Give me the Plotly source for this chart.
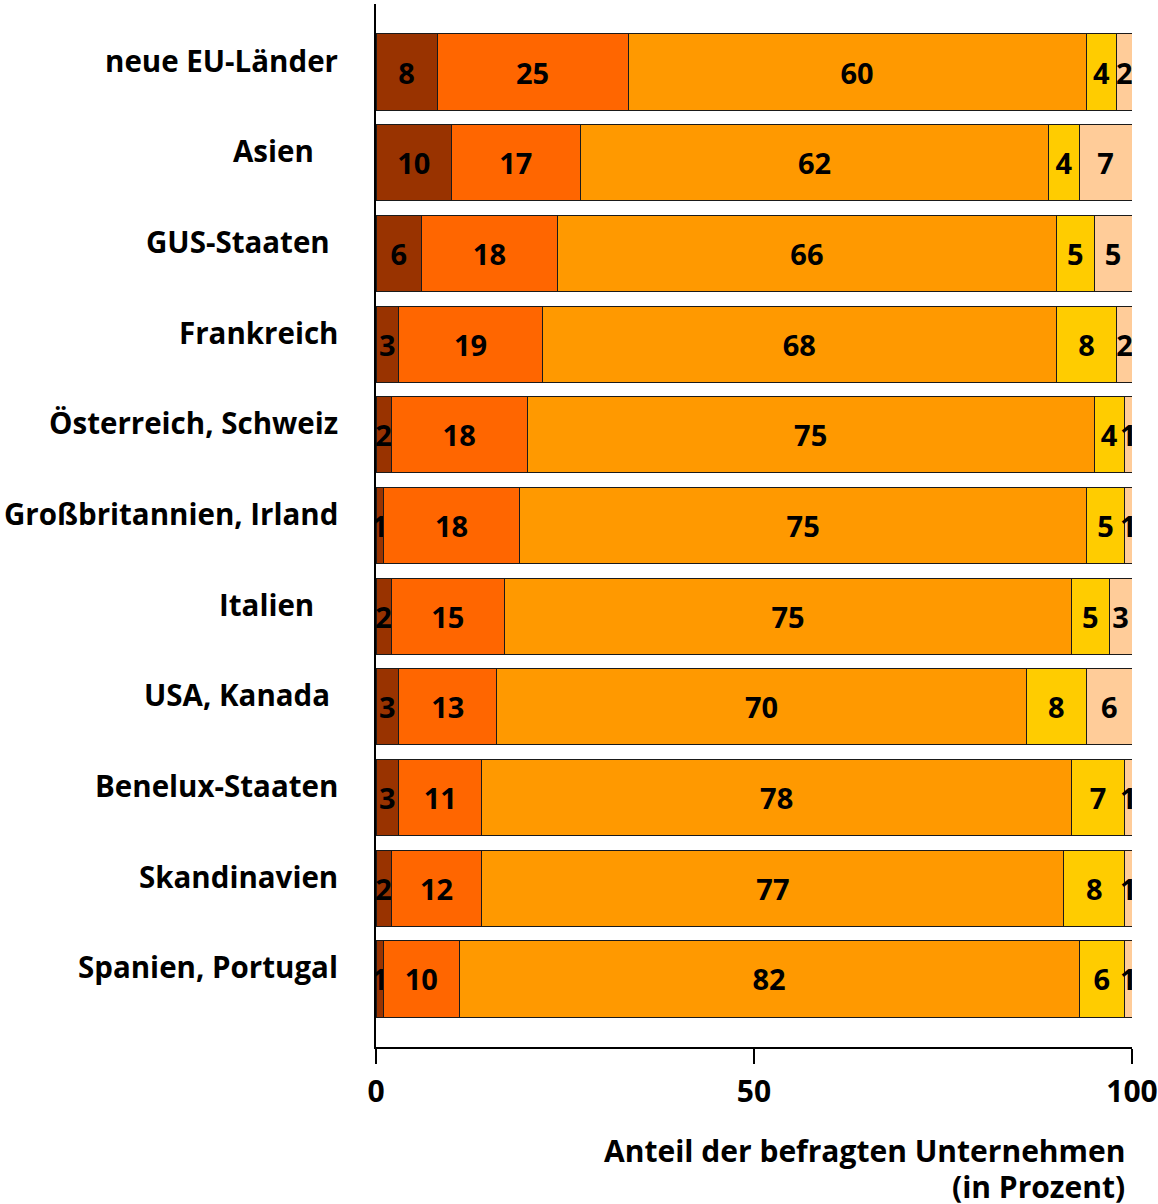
import plotly.graph_objects as go

regions = ["neue EU-Länder", "Asien", "GUS-Staaten", "Frankreich", "Österreich, Schweiz",
           "Großbritannien, Irland", "Italien", "USA, Kanada", "Benelux-Staaten",
           "Skandinavien", "Spanien, Portugal"]

series_names = ["Kategorie 1", "Kategorie 2", "Kategorie 3", "Kategorie 4", "Kategorie 5"]
s1 = [8, 10, 6, 3, 2, 1, 2, 3, 3, 2, 1]
s2 = [25, 17, 18, 19, 18, 18, 15, 13, 11, 12, 10]
s3 = [60, 62, 66, 68, 75, 75, 75, 70, 78, 77, 82]
s4 = [4, 4, 5, 8, 4, 5, 5, 8, 7, 8, 6]
s5 = [2, 7, 5, 2, 1, 1, 3, 6, 1, 1, 1]

x_ticks = [0, 50, 100]
x_title_lines = ["Anteil der befragten Unternehmen", "(in Prozent)"]

colors = ["#993300", "#FF6600", "#FF9900", "#FFCC00", "#FFCC99"]
FONT = "Open Sans"

fig = go.Figure()
for name, vals, col in zip(series_names, [s1, s2, s3, s4, s5], colors):
    fig.add_trace(go.Bar(
        y=regions, x=vals, name=name, orientation="h",
        marker=dict(color=col, line=dict(color="#1a1a1a", width=1)),
        text=[str(v) for v in vals], textposition="inside", insidetextanchor="middle",
        textangle=0, constraintext="none",
        textfont=dict(family=FONT, size=29, color="black", weight="bold"),
        hoverinfo="x+y+name", showlegend=False,
    ))

# label right-edge offsets (px left of axis) for category annotations
label_offset = {"Asien": 60, "GUS-Staaten": 44, "Italien": 60, "USA, Kanada": 44}
for r in regions:
    fig.add_annotation(
        x=0, xref="paper", y=r, yref="y", text=r, showarrow=False,
        xanchor="right", yanchor="middle", xshift=-label_offset.get(r, 36), yshift=12,
        font=dict(family=FONT, size=29.5, color="black", weight="bold"),
    )

for line, shift in zip(x_title_lines, [-103, -139]):
    fig.add_annotation(
        x=1, xref="paper", y=0, yref="paper", text=line, showarrow=False,
        xanchor="right", yanchor="middle", xshift=-5, yshift=shift,
        font=dict(family=FONT, size=30, color="black", weight="bold"),
    )

fig.update_layout(
    width=1158, height=1204,
    margin=dict(l=376, r=26, t=4, b=157, autoexpand=False),
    barmode="stack", barnorm="percent", bargap=0.16,
    plot_bgcolor="white", paper_bgcolor="white",
    font=dict(family=FONT, color="black"),
)
fig.update_xaxes(
    range=[0, 100], tickvals=x_ticks, ticktext=[str(t) for t in x_ticks],
    showgrid=False, zeroline=False, showline=True, linecolor="black", linewidth=2,
    ticks="outside", ticklen=15, tickwidth=2, tickcolor="black",
    tickfont=dict(family=FONT, size=30, color="black", weight="bold"),
    ticklabelstandoff=2, automargin=False,
)
fig.update_yaxes(
    autorange=False, range=[10.75, -0.75], showticklabels=False,
    showgrid=False, zeroline=False, showline=True, linecolor="black", linewidth=2,
    ticks="", automargin=False,
)

fig.write_html("out.html")
